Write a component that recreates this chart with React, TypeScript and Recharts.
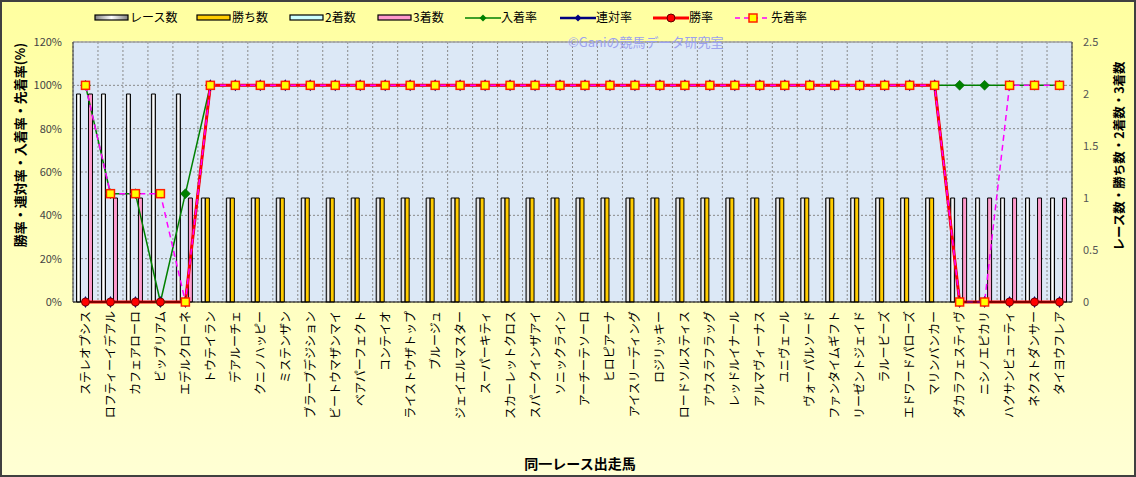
import React from 'react';
import { ComposedChart, Bar, Line, XAxis, YAxis, CartesianGrid, ReferenceLine } from 'recharts';

const horseNames = [
  'ステレオプシス', 'ロフティーイデアル', 'カフェアローロ', 'ビップリアム', 'エデルクローネ',
  'トウテイラン', 'デアルーチェ', 'クニノハッピー', 'ミステンザン', 'ブラーブデジション',
  'ビートウマザンマイ', 'ベアパーフェクト', 'コンテイオ', 'ライストウザトップ', 'ブルージュ',
  'ジェイエルマスター', 'スーパーキティ', 'スカーレットクロス', 'スパークインザアイ', 'ソニックライン',
  'アーチーテソーロ', 'ヒロピアーナ', 'アイスリーディング', 'ロジリッキー', 'ロードソルスティス',
  'アウスラフラッグ', 'レッドルイナール', 'アルマヴィーナス', 'ユニヴェール', 'ヴォーパルソード',
  'ファンタイムギフト', 'リーゼントジェイド', 'ラルービーズ', 'エドワードパローズ', 'マリンバンカー',
  'ダカラフェスティヴ', 'ニシノエピカリ', 'ハクサンビューティ', 'ネクストダンサー', 'タイヨウフレア',
];

// counts (right axis)
const raceCounts = [2, 2, 2, 2, 2, 1, 1, 1, 1, 1, 1, 1, 1, 1, 1, 1, 1, 1, 1, 1, 1, 1, 1, 1, 1, 1, 1, 1, 1, 1, 1, 1, 1, 1, 1, 1, 1, 1, 1, 1];
const winCounts = [0, 0, 0, 0, 0, 1, 1, 1, 1, 1, 1, 1, 1, 1, 1, 1, 1, 1, 1, 1, 1, 1, 1, 1, 1, 1, 1, 1, 1, 1, 1, 1, 1, 1, 1, 0, 0, 0, 0, 0];
const secondCounts = [0, 0, 0, 0, 0, 0, 0, 0, 0, 0, 0, 0, 0, 0, 0, 0, 0, 0, 0, 0, 0, 0, 0, 0, 0, 0, 0, 0, 0, 0, 0, 0, 0, 0, 0, 0, 0, 0, 0, 0];
const thirdCounts = [2, 1, 1, 0, 1, 0, 0, 0, 0, 0, 0, 0, 0, 0, 0, 0, 0, 0, 0, 0, 0, 0, 0, 0, 0, 0, 0, 0, 0, 0, 0, 0, 0, 0, 0, 1, 1, 1, 1, 1];

// rates (left axis, fraction)
const nyuchakuRates = [1, 0.5, 0.5, 0, 0.5, 1, 1, 1, 1, 1, 1, 1, 1, 1, 1, 1, 1, 1, 1, 1, 1, 1, 1, 1, 1, 1, 1, 1, 1, 1, 1, 1, 1, 1, 1, 1, 1, 1, 1, 1];
const rentaiRates = [0, 0, 0, 0, 0, 1, 1, 1, 1, 1, 1, 1, 1, 1, 1, 1, 1, 1, 1, 1, 1, 1, 1, 1, 1, 1, 1, 1, 1, 1, 1, 1, 1, 1, 1, 0, 0, 0, 0, 0];
const winRates = [0, 0, 0, 0, 0, 1, 1, 1, 1, 1, 1, 1, 1, 1, 1, 1, 1, 1, 1, 1, 1, 1, 1, 1, 1, 1, 1, 1, 1, 1, 1, 1, 1, 1, 1, 0, 0, 0, 0, 0];
const senchakuRates = [1, 0.5, 0.5, 0.5, 0, 1, 1, 1, 1, 1, 1, 1, 1, 1, 1, 1, 1, 1, 1, 1, 1, 1, 1, 1, 1, 1, 1, 1, 1, 1, 1, 1, 1, 1, 1, 0, 0, 1, 1, 1];

const rateTicks = [0, 0.2, 0.4, 0.6, 0.8, 1.0, 1.2];
const countTicks = [0, 0.5, 1, 1.5, 2, 2.5];

const data = horseNames.map((name, i) => ({
  name,
  races: raceCounts[i],
  wins: winCounts[i],
  seconds: secondCounts[i],
  thirds: thirdCounts[i],
  nyuchaku: nyuchakuRates[i],
  rentai: rentaiRates[i],
  winRate: winRates[i],
  senchaku: senchakuRates[i],
}));

const FONT = "'Noto Sans CJK JP', 'Noto Sans', sans-serif";

const XTick = (props: any) => {
  const { x, y, payload } = props;
  return (
    <g transform={`translate(${x},${y + 1})`}>
      <text x={0} y={0} dy={4.5} transform="rotate(-90)" textAnchor="end" fontSize={12} fill="#000" fontFamily={FONT}>
        {payload.value}
      </text>
    </g>
  );
};

const greenDot = (p: any) => {
  const { cx, cy, index } = p;
  if (cx == null || cy == null) return <g key={`g${index}`} />;
  const s = 5;
  return <path key={`g${index}`} d={`M${cx},${cy - s}L${cx + s},${cy}L${cx},${cy + s}L${cx - s},${cy}Z`} fill="#008000" stroke="#006000" strokeWidth={0.5} />;
};
const navyDot = (p: any) => {
  const { cx, cy, index } = p;
  if (cx == null || cy == null) return <g key={`n${index}`} />;
  return <path key={`n${index}`} d={`M${cx},${cy - 6}L${cx + 3.5},${cy}L${cx},${cy + 6}L${cx - 3.5},${cy}Z`} fill="#000080" />;
};
const redDot = (p: any) => {
  const { cx, cy, index } = p;
  if (cx == null || cy == null) return <g key={`r${index}`} />;
  return <circle key={`r${index}`} cx={cx} cy={cy} r={4} fill="#ff0000" stroke="#7a0000" strokeWidth={1} />;
};
const squareDot = (p: any) => {
  const { cx, cy, index } = p;
  if (cx == null || cy == null) return <g key={`s${index}`} />;
  return <rect key={`s${index}`} x={cx - 4} y={cy - 4} width={8} height={8} fill="#ffff00" stroke="#ff2000" strokeWidth={1.5} />;
};

type LegendItem = { label: string; kind: 'bar' | 'line'; x: number; fill?: string; stroke?: string; marker?: string; dash?: string; width?: number };

const legendItems: LegendItem[] = [
  { label: 'レース数', kind: 'bar', x: 94, fill: 'url(#legRace)' },
  { label: '勝ち数', kind: 'bar', x: 196, fill: '#ffcc00' },
  { label: '2着数', kind: 'bar', x: 289, fill: '#ccffff' },
  { label: '3着数', kind: 'bar', x: 377, fill: '#ff99cc' },
  { label: '入着率', kind: 'line', x: 465, stroke: '#008000', marker: 'diamond', width: 1.5 },
  { label: '連対率', kind: 'line', x: 560, stroke: '#000080', marker: 'ndiamond', width: 2.5 },
  { label: '勝率', kind: 'line', x: 653, stroke: '#ff0000', marker: 'circle', width: 3 },
  { label: '先着率', kind: 'line', x: 735, stroke: '#ff00ff', marker: 'square', dash: '5 4', width: 1.5 },
];

const LegendIcon = ({ item }: { item: LegendItem }) => {
  if (item.kind === 'bar') {
    return (
      <svg width={36} height={10} style={{ position: 'absolute', left: item.x, top: 13 }}>
        <defs>
          <linearGradient id="legRace" x1="0" y1="0" x2="1" y2="0">
            <stop offset="0" stopColor="#808080" />
            <stop offset="0.5" stopColor="#ffffff" />
            <stop offset="1" stopColor="#808080" />
          </linearGradient>
        </defs>
        <rect x={1} y={2} width={33} height={5} fill={item.fill} stroke="#000" strokeWidth={1.2} />
      </svg>
    );
  }
  const cx = 18, cy = 5;
  let m: React.ReactNode = null;
  if (item.marker === 'diamond') m = <path d={`M${cx},${cy - 3.5}L${cx + 3.5},${cy}L${cx},${cy + 3.5}L${cx - 3.5},${cy}Z`} fill="#008000" />;
  if (item.marker === 'ndiamond') m = <path d={`M${cx},${cy - 3.5}L${cx + 3.5},${cy}L${cx},${cy + 3.5}L${cx - 3.5},${cy}Z`} fill="#000080" />;
  if (item.marker === 'circle') m = <circle cx={cx} cy={cy} r={4} fill="#ff0000" stroke="#600000" strokeWidth={1} />;
  if (item.marker === 'square') m = <rect x={cx - 4} y={cy - 4} width={8} height={8} fill="#ffff00" stroke="#ff2000" strokeWidth={1.5} />;
  return (
    <svg width={36} height={10} style={{ position: 'absolute', left: item.x, top: 13 }}>
      <line x1={0} y1={cy} x2={36} y2={cy} stroke={item.stroke} strokeWidth={item.width} strokeDasharray={item.dash} />
      {m}
    </svg>
  );
};

export default function App() {
  return (
    <div style={{ position: 'absolute', left: 0, top: 0, width: 1136, height: 477, background: 'linear-gradient(#ffffa0, #ffffd4)', fontFamily: FONT }}>
      <ComposedChart
        width={1136}
        height={477}
        data={data}
        margin={{ top: 42, right: 4, left: 13, bottom: 5 }}
        barCategoryGap="14%"
        barGap={0}
      >
        <defs>
          <linearGradient id="raceGrad" x1="0" y1="0" x2="1" y2="0">
            <stop offset="0" stopColor="#9a9a9a" />
            <stop offset="0.5" stopColor="#ffffff" />
            <stop offset="1" stopColor="#9a9a9a" />
          </linearGradient>
        </defs>
        <CartesianGrid
          yAxisId="rate"
          stroke="#8a8a8a"
          strokeDasharray="2 2"
          fill="#dce8f6"
          fillOpacity={1}
          verticalCoordinatesGenerator={(args: any) => {
            const off = args.offset;
            const n = data.length;
            return Array.from({ length: n + 1 }, (_, i) => off.left + (i * off.width) / n);
          }}
        />
        <XAxis
          dataKey="name"
          interval={0}
          height={170}
          tickLine={false}
          axisLine={{ stroke: '#000', strokeWidth: 1 }}
          tick={<XTick />}
        />
        <YAxis
          yAxisId="rate"
          domain={[0, 1.2]}
          ticks={rateTicks}
          width={60}
          tickLine={false}
          tickMargin={5}
          axisLine={{ stroke: '#333' }}
          tickFormatter={(v: number) => `${Math.round(v * 100)}%`}
          tick={{ fontSize: 11, fill: '#444', fontFamily: FONT }}
        />
        <YAxis
          yAxisId="count"
          orientation="right"
          domain={[0, 2.5]}
          ticks={countTicks}
          width={60}
          tickLine={false}
          tickMargin={5}
          axisLine={{ stroke: '#333' }}
          tick={{ fontSize: 11, fill: '#555', fontFamily: FONT, textAnchor: 'start' }}
        />
        <ReferenceLine yAxisId="rate" y={1.2} stroke="#a0a0a0" strokeWidth={1.5} />
        <Bar yAxisId="count" dataKey="races" fill="url(#raceGrad)" stroke="#000" strokeWidth={1} isAnimationActive={false} />
        <Bar yAxisId="count" dataKey="wins" fill="#ffcc00" stroke="#000" strokeWidth={1} isAnimationActive={false} />
        <Bar yAxisId="count" dataKey="seconds" fill="#ccffff" stroke="#000" strokeWidth={1} isAnimationActive={false} />
        <Bar yAxisId="count" dataKey="thirds" fill="#ff99cc" stroke="#000" strokeWidth={1} isAnimationActive={false} />
        <Line yAxisId="rate" type="linear" dataKey="nyuchaku" stroke="#008000" strokeWidth={1.5} dot={greenDot} activeDot={false} isAnimationActive={false} />
        <Line yAxisId="rate" type="linear" dataKey="rentai" stroke="#000080" strokeWidth={2} dot={navyDot} activeDot={false} isAnimationActive={false} />
        <Line yAxisId="rate" type="linear" dataKey="winRate" stroke="#ff0000" strokeWidth={3} dot={redDot} activeDot={false} isAnimationActive={false} />
        <Line yAxisId="rate" type="linear" dataKey="senchaku" stroke="#ff00ff" strokeWidth={1.5} strokeDasharray="6 4" dot={squareDot} activeDot={false} isAnimationActive={false} />
      </ComposedChart>

      {legendItems.map((it) => (
        <React.Fragment key={it.label}>
          <LegendIcon item={it} />
          <div style={{ position: 'absolute', left: it.x + 36, top: 9, fontSize: 12, lineHeight: '16px', color: '#000', whiteSpace: 'nowrap' }}>
            {it.label}
          </div>
        </React.Fragment>
      ))}

      <div style={{ position: 'absolute', left: 568, top: 34, fontSize: 13, lineHeight: '16px', color: '#9ca2ee', whiteSpace: 'nowrap' }}>
        ©Ganiの競馬データ研究室
      </div>

      <div style={{ position: 'absolute', left: 19, top: 145, transform: 'translate(-50%, -50%) rotate(-90deg)', fontSize: 13, fontWeight: 'bold', whiteSpace: 'nowrap', color: '#000' }}>
        勝率・連対率・入着率・先着率(%)
      </div>
      <div style={{ position: 'absolute', left: 1118, top: 156, transform: 'translate(-50%, -50%) rotate(-90deg)', fontSize: 12.5, fontWeight: 'bold', whiteSpace: 'nowrap', color: '#000' }}>
        レース数・勝ち数・2着数・3着数
      </div>
      <div style={{ position: 'absolute', left: 580, top: 463, transform: 'translate(-50%, -50%)', fontSize: 14, fontWeight: 'bold', whiteSpace: 'nowrap', color: '#000' }}>
        同一レース出走馬
      </div>

      <div style={{ position: 'absolute', left: 0, top: 0, width: 1136, height: 477, boxSizing: 'border-box', border: '2px solid #404040', pointerEvents: 'none' }} />
    </div>
  );
}
